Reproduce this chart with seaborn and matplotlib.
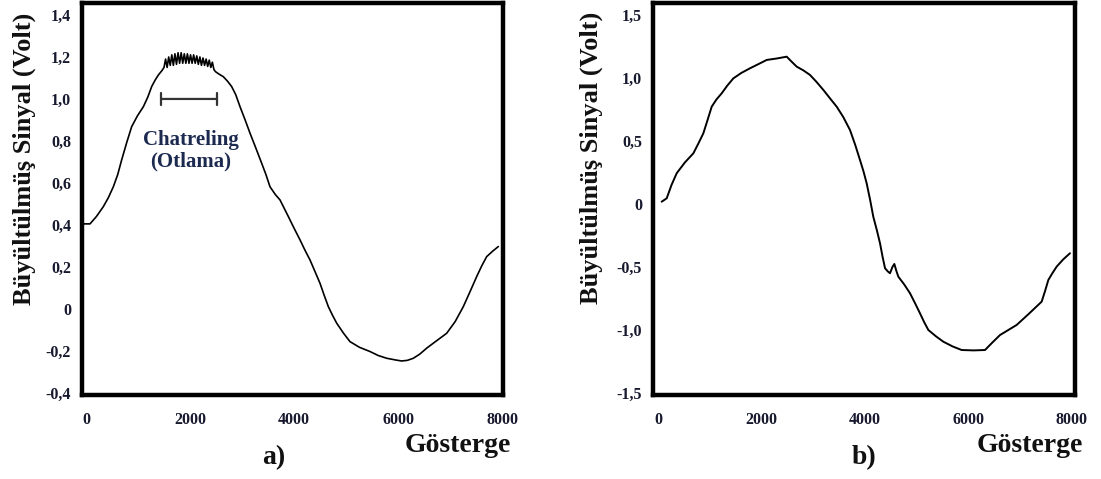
import matplotlib
matplotlib.use("Agg")
import matplotlib.pyplot as plt
import seaborn as sns
import pandas as pd

# ---------------- data ----------------
a_x = [-60, 77, 200, 333, 430, 526, 610, 686, 780, 878, 990, 1103, 1190, 1263, 1330, 1391, 1460]
a_y = [0.405, 0.405, 0.44, 0.487, 0.53, 0.582, 0.64, 0.71, 0.79, 0.868, 0.92, 0.963, 1.01, 1.059, 1.09, 1.114, 1.135]
# chattering region
a_cx = [1500, 1530, 1560, 1590, 1620, 1650, 1680, 1710, 1740, 1770, 1800, 1830, 1860, 1890,
        1920, 1950, 1980, 2010, 2040, 2070, 2100, 2130, 2160, 2190, 2220, 2250, 2280, 2310,
        2340, 2370, 2400, 2430, 2460, 2490]
a_cy = [1.15, 1.19, 1.15, 1.20, 1.16, 1.21, 1.16, 1.215, 1.165, 1.22, 1.17, 1.22, 1.17, 1.215,
        1.17, 1.215, 1.17, 1.21, 1.17, 1.21, 1.17, 1.205, 1.165, 1.20, 1.16, 1.195, 1.16, 1.19,
        1.155, 1.185, 1.15, 1.175, 1.14, 1.13]
a_x2 = [2560, 2641, 2720, 2801, 2880, 2962, 3060, 3154, 3260, 3378, 3460, 3538, 3640, 3731,
        3810, 3891, 4000, 4115, 4210, 4308, 4400, 4500, 4580, 4660, 4740, 4821, 4950, 5077,
        5260, 5462, 5620, 5782, 5950, 6071, 6180, 6295, 6420, 6551, 6740, 6936, 7100, 7256,
        7390, 7513, 7610, 7705, 7820, 7929]
a_y2 = [1.118, 1.106, 1.085, 1.059, 1.02, 0.963, 0.90, 0.837, 0.77, 0.694, 0.64, 0.582, 0.545, 0.519,
        0.48, 0.44, 0.385, 0.329, 0.28, 0.233, 0.18, 0.122, 0.065, 0.011, -0.03, -0.068, -0.115, -0.156,
        -0.183, -0.203, -0.222, -0.235, -0.243, -0.248, -0.245, -0.235, -0.215, -0.187, -0.152, -0.116,
        -0.06, 0.011, 0.085, 0.154, 0.205, 0.249, 0.275, 0.297]

b_x = [71, 168, 260, 361, 520, 683, 780, 876, 960, 1037, 1130, 1230, 1340, 1456, 1610, 1778,
       1940, 2100, 2300, 2487, 2580, 2680, 2810, 2937, 3060, 3195, 3320, 3453, 3580, 3710,
       3810, 3903, 3970, 4032, 4100, 4160, 4230, 4290, 4340, 4387, 4440, 4483, 4530, 4567,
       4605, 4644, 4760, 4870, 4970, 5063, 5140, 5224, 5370, 5514, 5690, 5868, 6100, 6319,
       6460, 6609, 6770, 6931, 7170, 7414, 7480, 7543, 7620, 7704, 7830, 7961]
b_y = [0.018, 0.045, 0.15, 0.244, 0.33, 0.402, 0.48, 0.561, 0.67, 0.772, 0.83, 0.878, 0.94, 0.997,
       1.04, 1.077, 1.11, 1.143, 1.155, 1.169, 1.13, 1.09, 1.06, 1.024, 0.97, 0.905, 0.84, 0.772,
       0.69, 0.587, 0.47, 0.349, 0.26, 0.164, 0.03, -0.101, -0.21, -0.312, -0.42, -0.51, -0.535,
       -0.55, -0.50, -0.476, -0.53, -0.577, -0.64, -0.709, -0.79, -0.868, -0.935, -1.0, -1.05,
       -1.093, -1.13, -1.159, -1.162, -1.159, -1.10, -1.04, -1.00, -0.96, -0.87, -0.775, -0.69,
       -0.603, -0.55, -0.497, -0.44, -0.391]

a_yticks = [-0.4, -0.2, 0, 0.2, 0.4, 0.6, 0.8, 1.0, 1.2, 1.4]
a_yticklabels = ["-0,4", "-0,2", "0", "0,2", "0,4", "0,6", "0,8", "1,0", "1,2", "1,4"]
b_yticks = [-1.5, -1.0, -0.5, 0, 0.5, 1.0, 1.5]
b_yticklabels = ["-1,5", "-1,0", "-0,5", "0", "0,5", "1,0", "1,5"]
xticks = [0, 2000, 4000, 6000, 8000]
xticklabels = ["0", "2000", "4000", "6000", "8000"]

bracket_x = [1442, 2519]
bracket_y = 1.0

ylabel = "Büyültülmüş Sinyal (Volt)"
xlabel = "Gösterge"

# ---------------- drawing ----------------
sns.set_theme(style="white")
plt.rcParams["font.family"] = ["Liberation Serif", "DejaVu Serif"]
plt.rcParams["font.weight"] = "bold"

W, H = 1101, 479
fig = plt.figure(figsize=(W / 100, H / 100), dpi=100)
fig.patch.set_facecolor("white")

def px_axes(x0, x1, y0, y1):
    return fig.add_axes([x0 / W, 1 - y1 / H, (x1 - x0) / W, (y1 - y0) / H])

ax_a = px_axes(82, 503, 3, 395)
ax_b = px_axes(653, 1075, 3, 395)

dfa = pd.DataFrame({"x": a_x + a_cx + a_x2, "y": a_y + a_cy + a_y2})
dfb = pd.DataFrame({"x": b_x, "y": b_y})

sns.lineplot(data=dfa, x="x", y="y", ax=ax_a, sort=False, estimator=None, color="black", lw=1.2)
sns.lineplot(data=dfb, x="x", y="y", ax=ax_b, sort=False, estimator=None, color="black", lw=1.4)

tick_col = "#17192e"
for ax, yt, ytl, xl, yl in [(ax_a, a_yticks, a_yticklabels, (-77, 8019), (-0.41, 1.457)),
                            (ax_b, b_yticks, b_yticklabels, (-97, 8058), (-1.516, 1.595))]:
    ax.set_xlim(*xl)
    ax.set_ylim(*yl)
    ax.set_xticks(xticks)
    ax.set_xticklabels(xticklabels)
    ax.set_yticks(yt)
    ax.set_yticklabels(ytl)
    ax.set_xlabel("")
    ax.set_ylabel("")
    ax.tick_params(axis="both", length=0, labelsize=11.5, colors=tick_col)
    ax.tick_params(axis="y", pad=8)
    ax.tick_params(axis="x", pad=12)
    for lab in ax.get_xticklabels() + ax.get_yticklabels():
        lab.set_fontweight("bold")
    for s in ax.spines.values():
        s.set_visible(True)
        s.set_color("black")
        s.set_linewidth(3.2)
    ax.grid(False)
    ax.set_facecolor("white")

# bracket and annotation in panel a
ax_a.annotate("", xy=(bracket_x[0], bracket_y), xytext=(bracket_x[1], bracket_y),
              arrowprops=dict(arrowstyle="|-|,widthA=0.35,widthB=0.35", color="#333333", lw=1.6,
                              shrinkA=0, shrinkB=0))
ax_a.text(sum(bracket_x) / 2 + 30, 0.755, "Chatreling\n(Otlama)", ha="center", va="center",
          fontsize=15, fontweight="bold", color="#1c2a50", linespacing=1.1)

# axis labels and panel letters
fig.text(24 / W, 1 - 159 / H, ylabel, rotation=90, ha="center", va="center",
         fontsize=19, fontweight="bold", color="#111111")
fig.text(591 / W, 1 - 158 / H, ylabel, rotation=90, ha="center", va="center",
         fontsize=19, fontweight="bold", color="#111111")
fig.text(458 / W, 1 - 445 / H, xlabel, ha="center", va="center", fontsize=20,
         fontweight="bold", color="#111111")
fig.text(1030 / W, 1 - 445 / H, xlabel, ha="center", va="center", fontsize=20,
         fontweight="bold", color="#111111")
fig.text(274 / W, 1 - 458 / H, "a)", ha="center", va="center", fontsize=20,
         fontweight="bold", color="#111111")
fig.text(864 / W, 1 - 458 / H, "b)", ha="center", va="center", fontsize=20,
         fontweight="bold", color="#111111")

fig.savefig("out.png", dpi=100, facecolor="white")
